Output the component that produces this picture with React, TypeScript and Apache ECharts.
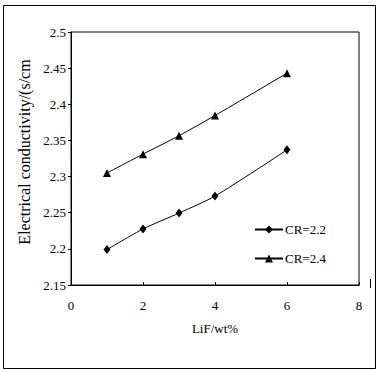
import React, { useEffect, useRef } from "react";
import * as echarts from "echarts";

const xValues = [1, 2, 3, 4, 6];
const cr22 = [2.199, 2.2275, 2.2495, 2.273, 2.337];
const cr24 = [2.305, 2.331, 2.3565, 2.3845, 2.443];
const seriesNames = ["CR=2.2", "CR=2.4"];
const xAxisName = "LiF/wt%";
const yAxisName = "Electrical conductivity/(s/cm";

export default function App() {
  const ref = useRef<HTMLDivElement>(null);
  useEffect(() => {
    if (!ref.current) return;
    const chart = echarts.init(ref.current, null, { renderer: "svg" });
    const font = "'Liberation Serif', 'Times New Roman', serif";
    chart.setOption({
      animation: false,
      backgroundColor: "#fff",
      textStyle: { fontFamily: font, color: "#000" },
      grid: {
        left: 71,
        right: 20,
        top: 32,
        bottom: 87,
        show: true,
        borderColor: "#000",
        borderWidth: 1,
        backgroundColor: "transparent",
      },
      xAxis: {
        type: "value",
        min: 0,
        max: 8,
        interval: 2,
        name: xAxisName,
        nameLocation: "middle",
        nameGap: 37,
        nameTextStyle: { fontFamily: font, fontSize: 13, color: "#000" },
        axisLine: { show: true, lineStyle: { color: "#000", width: 1 } },
        axisTick: { show: true, inside: true, length: 3, lineStyle: { color: "#000" } },
        axisLabel: { fontFamily: font, fontSize: 13, color: "#000", margin: 14 },
        splitLine: { show: false },
      },
      yAxis: {
        type: "value",
        min: 2.15,
        max: 2.5,
        interval: 0.05,
        axisLine: { show: true, lineStyle: { color: "#000", width: 1 } },
        axisTick: { show: true, inside: false, length: 3, lineStyle: { color: "#000" } },
        axisLabel: {
          fontFamily: font,
          fontSize: 13,
          color: "#000",
          margin: 5,
          formatter: (v: number) => String(parseFloat(v.toFixed(2))),
        },
        splitLine: { show: false },
      },
      legend: {
        orient: "vertical",
        left: 249,
        top: 218,
        itemWidth: 28,
        itemHeight: 10,
        itemGap: 16,
        textStyle: { fontFamily: font, fontSize: 13, color: "#000", padding: [0, 0, 0, -3] },
        data: seriesNames,
      },
      graphic: [
        {
          type: "rect",
          shape: { x: 3.5, y: 5.5, width: 372, height: 363 },
          style: { fill: "none", stroke: "#000", lineWidth: 1 },
          silent: true,
        },
        {
          type: "line",
          shape: { x1: 370.5, y1: 279, x2: 370.5, y2: 288 },
          style: { stroke: "#000", lineWidth: 1 },
          silent: true,
        },
        {
          type: "text",
          x: 24,
          y: 152,
          rotation: Math.PI / 2,
          style: {
            text: yAxisName,
            font: "16px 'Liberation Serif', serif",
            fill: "#000",
            align: "center",
            verticalAlign: "middle",
          },
          silent: true,
        },
      ],
      series: [
        {
          name: seriesNames[0],
          type: "line",
          data: xValues.map((x, i) => [x, cr22[i]]),
          symbol: "diamond",
          symbolSize: [7, 9],
          smooth: 0.25,
          lineStyle: { color: "#000", width: 1 },
          itemStyle: { color: "#000" },
        },
        {
          name: seriesNames[1],
          type: "line",
          data: xValues.map((x, i) => [x, cr24[i]]),
          symbol: "triangle",
          symbolSize: [8, 8],
          smooth: 0.25,
          lineStyle: { color: "#000", width: 1 },
          itemStyle: { color: "#000" },
        },
      ],
    });
    return () => chart.dispose();
  }, []);
  return (
    <div
      ref={ref}
      style={{ position: "fixed", left: 0, top: 0, width: 379, height: 372, background: "#fff" }}
    />
  );
}
